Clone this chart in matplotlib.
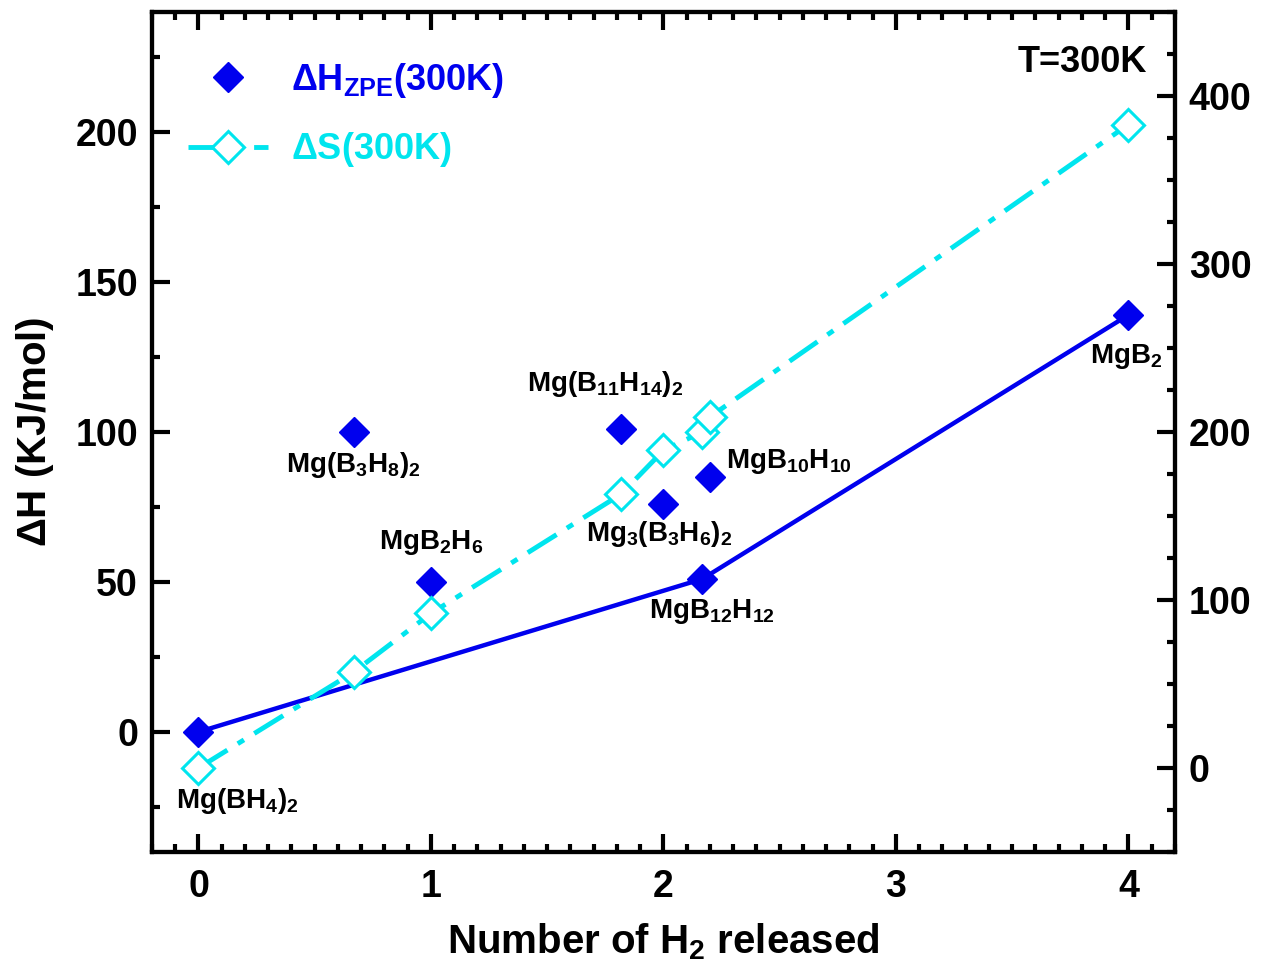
import matplotlib
matplotlib.use("Agg")
import matplotlib.pyplot as plt
from matplotlib.ticker import MultipleLocator

plt.rcParams['font.family'] = ['Liberation Sans', 'DejaVu Sans']
plt.rcParams['font.weight'] = 'bold'
plt.rcParams['mathtext.fontset'] = 'custom'
plt.rcParams['mathtext.rm'] = 'Liberation Sans:bold'
plt.rcParams['mathtext.bf'] = 'Liberation Sans:bold'
plt.rcParams['mathtext.it'] = 'Liberation Sans:bold'
plt.rcParams['mathtext.default'] = 'rm'

# Data
compounds = [r'Mg(BH$_4$)$_2$', r'Mg(B$_3$H$_8$)$_2$', r'MgB$_2$H$_6$',
             r'Mg(B$_{11}$H$_{14}$)$_2$', r'Mg$_3$(B$_3$H$_6$)$_2$',
             r'MgB$_{12}$H$_{12}$', r'MgB$_{10}$H$_{10}$', r'MgB$_2$']
h2_released = [0, 0.667, 1, 1.818, 2, 2.167, 2.2, 4]
dH = [0, 100, 50, 101, 76, 51, 85, 139]
dS = [0, 57, 92, 163, 189, 200, 209, 383]

line_x = [0, 2.167, 4]
line_dH = [0, 51, 139]

# label anchor positions (data coords on left axis) and alignment
label_x = [-0.095, 0.664, 1.0, 1.75, 1.98, 2.21, 2.27, 3.99]
label_y = [-23, 89, 63, 116, 66, 40, 90, 125]
label_ha = ['left', 'center', 'center', 'center', 'center', 'center', 'left', 'center']

fig = plt.figure(figsize=(12.62, 9.72), dpi=100)
ax = fig.add_axes([0.1204, 0.1235, 0.8106, 0.8642])
ax2 = ax.twinx()

blue = '#0000EE'
cyan = '#00E5EE'

ax.plot(line_x, line_dH, color=blue, lw=3.2, zorder=2)
h1, = ax.plot(h2_released, dH, linestyle='none', marker='D', ms=15,
              color=blue, mec=blue, zorder=3, label=r'$\Delta$H$_{ZPE}$(300K)')

h2, = ax2.plot(h2_released, dS, color=cyan, lw=3.5, dashes=(7, 2.5, 1.5, 2.5),
               marker='D', ms=16, mfc='white', mec=cyan, mew=2.2,
               label=r'$\Delta$S(300K)')

ax.set_xlim(-0.2, 4.2)
ax.set_ylim(-40, 240)
ax2.set_ylim(-50, 450)

ax.xaxis.set_major_locator(MultipleLocator(1))
ax.xaxis.set_minor_locator(MultipleLocator(0.1))
ax.yaxis.set_major_locator(MultipleLocator(50))
ax.yaxis.set_minor_locator(MultipleLocator(25))
ax2.yaxis.set_major_locator(MultipleLocator(100))
ax2.yaxis.set_minor_locator(MultipleLocator(25))
ax.set_yticks([0, 50, 100, 150, 200])
ax2.set_yticks([0, 100, 200, 300, 400])

for a in (ax, ax2):
    for s in a.spines.values():
        s.set_linewidth(3)
ax.tick_params(axis='x', which='both', direction='in', top=True, bottom=True,
               labelsize=27, pad=12)
ax.tick_params(axis='y', which='both', direction='in', left=True, right=False,
               labelsize=27, pad=10)
ax.tick_params(which='major', length=13, width=3)
ax.tick_params(which='minor', length=6, width=3)
ax2.tick_params(axis='y', which='both', direction='in', labelsize=27, pad=10)
ax2.tick_params(which='major', length=13, width=3)
ax2.tick_params(which='minor', length=6, width=3)

for lab in ax.get_xticklabels() + ax.get_yticklabels() + ax2.get_yticklabels():
    lab.set_fontweight('bold')

ax.set_xlabel(r'Number of H$_2$ released', fontsize=29, fontweight='bold', labelpad=12)
ax.set_ylabel(r'$\Delta$H (KJ/mol)', fontsize=29, fontweight='bold', labelpad=14)

for name, lx, ly, ha in zip(compounds, label_x, label_y, label_ha):
    ax.text(lx, ly, name, fontsize=20, fontweight='bold', ha=ha, va='center', zorder=5)

ax.text(4.08, 223, 'T=300K', fontsize=26, fontweight='bold', ha='right', va='center')

leg = ax.legend(handles=[h1, h2], loc='upper left', bbox_to_anchor=(0.0, 0.985),
                frameon=False, fontsize=26, handlelength=2.2, handletextpad=0.65,
                labelspacing=0.85, borderaxespad=0.6)
for txt, c in zip(leg.get_texts(), [blue, cyan]):
    txt.set_color(c)

fig.savefig('out.png', dpi=100)
